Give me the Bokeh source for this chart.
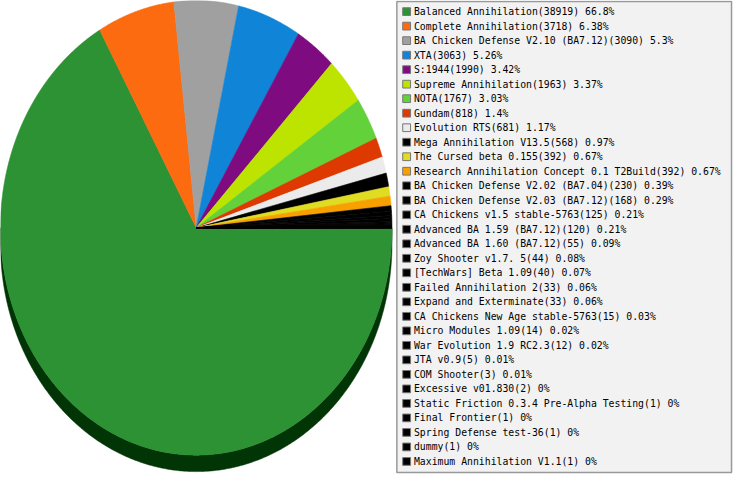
import numpy as np
from bokeh.plotting import figure
from bokeh.models import Range1d, ColumnDataSource
from bokeh.embed import file_html
from bokeh.resources import INLINE
from bokeh.core.properties import value

names = [
    "Balanced Annihilation", "Complete Annihilation", "BA Chicken Defense V2.10 (BA7.12)",
    "XTA", "S:1944", "Supreme Annihilation", "NOTA", "Gundam", "Evolution RTS",
    "Mega Annihilation V13.5", "The Cursed beta 0.155", "Research Annihilation Concept 0.1 T2Build",
    "BA Chicken Defense V2.02 (BA7.04)", "BA Chicken Defense V2.03 (BA7.12)",
    "CA Chickens v1.5 stable-5763", "Advanced BA 1.59 (BA7.12)", "Advanced BA 1.60 (BA7.12)",
    "Zoy Shooter v1.7. 5", "[TechWars] Beta 1.09", "Failed Annihilation 2",
    "Expand and Exterminate", "CA Chickens New Age stable-5763", "Micro Modules 1.09",
    "War Evolution 1.9 RC2.3", "JTA v0.9", "COM Shooter", "Excessive v01.830",
    "Static Friction 0.3.4 Pre-Alpha Testing", "Final Frontier", "Spring Defense test-36",
    "dummy", "Maximum Annihilation V1.1",
]
counts = [38919, 3718, 3090, 3063, 1990, 1963, 1767, 818, 681, 568, 392, 392, 230, 168,
          125, 120, 55, 44, 40, 33, 33, 15, 14, 12, 5, 3, 2, 1, 1, 1, 1, 1]
pcts = ["66.8", "6.38", "5.3", "5.26", "3.42", "3.37", "3.03", "1.4", "1.17", "0.97",
        "0.67", "0.67", "0.39", "0.29", "0.21", "0.21", "0.09", "0.08", "0.07", "0.06",
        "0.06", "0.03", "0.02", "0.02", "0.01", "0.01", "0", "0", "0", "0", "0", "0"]
colors = ["#2c9234", "#fc6b10", "#a0a0a0", "#1084d6", "#7e0c80", "#bde400", "#62d13a",
          "#dd3900", "#ebebeb", "#000000", "#e0dc22", "#f8a000"] + ["#000000"] * 20

W, H = 749, 490
p = figure(width=733, height=474, output_backend="svg", toolbar_location=None,
           x_range=Range1d(0, W), y_range=Range1d(H, 0), min_border=0)
p.axis.visible = False
p.grid.visible = False
p.outline_line_color = None
p.background_fill_color = "white"

cx, cy, rx, ry, depth = 200.0, 235.0, 200.0, 235.0, 17.0
vals = np.array(counts, dtype=float)
cum = np.concatenate([[0], np.cumsum(vals)]) / vals.sum() * 2 * np.pi


def darken(h):
    r, g, b = int(h[1:3], 16), int(h[3:5], 16), int(h[5:7], 16)
    f = lambda c: max(0, int(c * 0.5) - 20)
    return "#%02x%02x%02x" % (f(r), f(g), f(b))


# sides (visible lower half, angles 0..pi clockwise on screen)
sxs, sys_, scol = [], [], []
for i in range(len(vals)):
    a0, a1 = max(cum[i], 0), min(cum[i + 1], np.pi)
    if a1 <= a0:
        continue
    t = np.linspace(a0, a1, max(3, int((a1 - a0) * 120)))
    x = cx + rx * np.cos(t)
    y = cy + ry * np.sin(t)
    sxs.append(np.concatenate([x, x[::-1]]))
    sys_.append(np.concatenate([y, y[::-1] + depth]))
    scol.append(darken(colors[i]))
p.patches(sxs, sys_, fill_color=scol, line_color=scol, line_width=0.5)

# top faces
txs, tys = [], []
for i in range(len(vals)):
    a0, a1 = cum[i], cum[i + 1]
    t = np.linspace(a0, a1, max(2, int((a1 - a0) * 200)))
    txs.append(np.concatenate([[cx], cx + rx * np.cos(t)]))
    tys.append(np.concatenate([[cy], cy + ry * np.sin(t)]))
p.patches(txs, tys, fill_color=colors, line_color=colors, line_width=0.6)

# legend box
p.quad(left=[405], right=[747], top=[1], bottom=[488], fill_color="#f2f2f2",
       line_color="#999999", line_width=1.5)
ys = [11.5 + 15 * i for i in range(len(names))]
labels = [f"{n}({c}) {q}%" for n, c, q in zip(names, counts, pcts)]
src = ColumnDataSource(dict(y=ys, c=colors, t=labels,
                            l=[411] * len(names), r=[419] * len(names),
                            tp=[yy - 4 for yy in ys], bt=[yy + 4 for yy in ys],
                            x=[422.5] * len(names)))
p.quad(left="l", right="r", top="tp", bottom="bt", fill_color="c",
       line_color="#777777", line_width=1, source=src)
p.text(x="x", y="y", text="t", source=src, text_font=value("DejaVu Sans Mono"),
       text_font_size="9.8px", text_baseline="middle", text_color="#000000")

open("out.html", "w").write(file_html(p, INLINE))
